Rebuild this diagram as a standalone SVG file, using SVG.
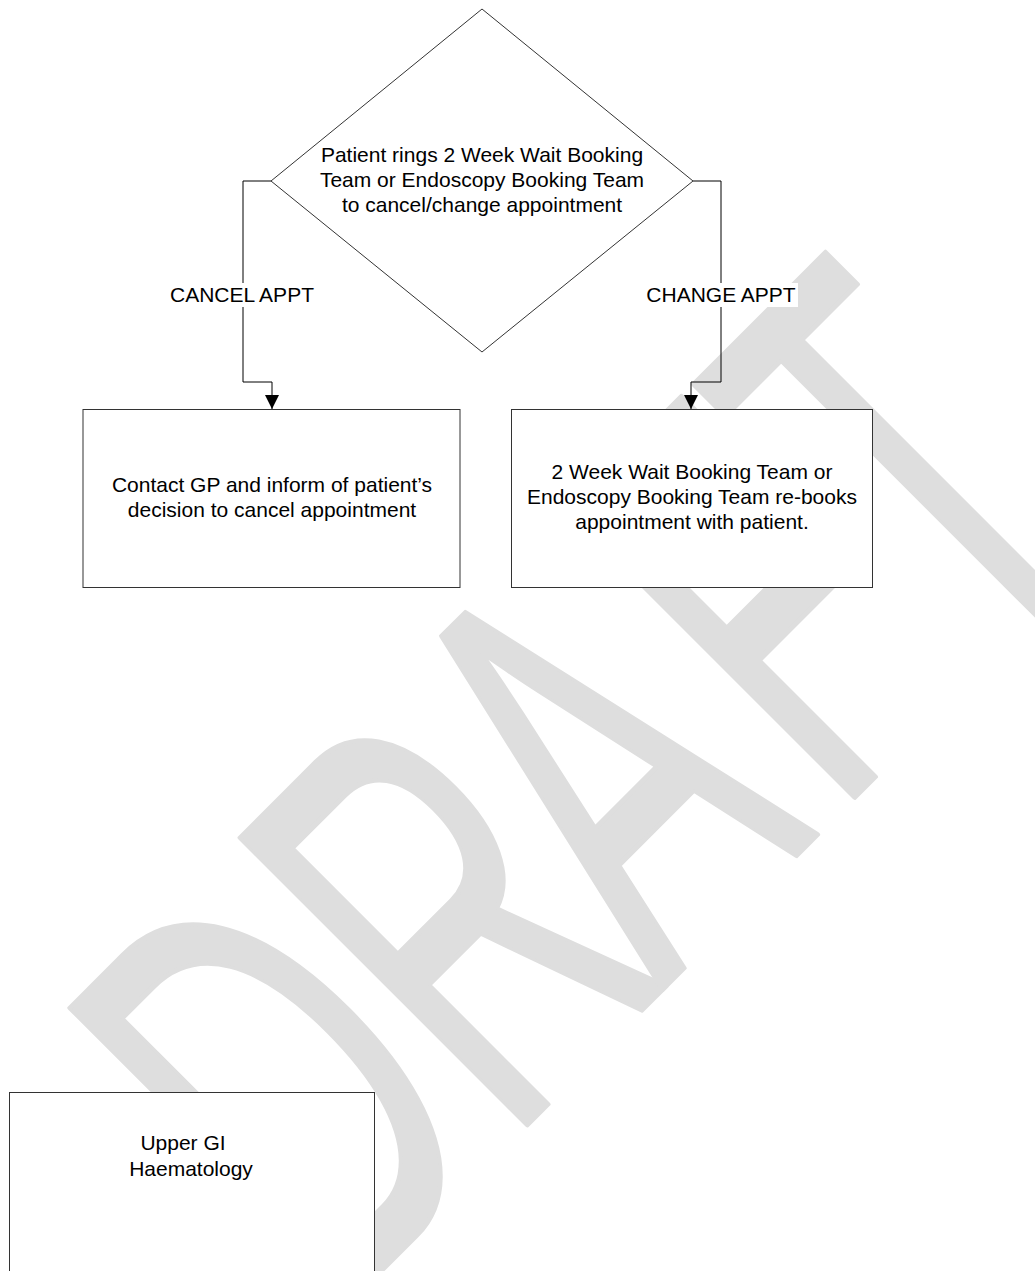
<svg xmlns="http://www.w3.org/2000/svg" width="1035" height="1271" viewBox="0 0 1035 1271">
<style>
.bg{fill:#ffffff}
.node{fill:#ffffff;stroke:#333333;stroke-width:1}
.t{font-family:"Liberation Sans",Arial,sans-serif;font-size:21px;fill:#000000;text-anchor:middle}
.conn{fill:none;stroke:#000000;stroke-width:1}
.lblbg{fill:#ffffff}
.wm{font-family:"Liberation Sans",Arial,sans-serif;font-size:590px;fill:#dedede;stroke:#dedede;stroke-width:5;stroke-linejoin:round}
</style>
<defs>
<marker id="arrow" viewBox="0 0 14 14" markerWidth="14" markerHeight="14" refX="14" refY="7" orient="auto" markerUnits="userSpaceOnUse">
<path d="M0,0 L14,7 L0,14 z" fill="#000000"/>
</marker>
</defs>
<rect class="bg" x="0" y="0" width="1035" height="1271"/>
<g id="watermark">
<text class="wm" transform="translate(337,1315) rotate(-45) scale(0.565,1)" x="0" y="0" dx="0 0 -40 40 -10">DRAFT</text>
</g>
<g id="connectors">
<path class="conn" d="M271,181 H243 V382 H272 V409" marker-end="url(#arrow)"/>
<path class="conn" d="M693,181 H721 V382 H691 V409" marker-end="url(#arrow)"/>
<g id="label-cancel">
<rect class="lblbg" x="165" y="283" width="155" height="24"/>
<text class="t" x="242" y="302">CANCEL APPT</text>
</g>
<g id="label-change">
<rect class="lblbg" x="643" y="283" width="155" height="24"/>
<text class="t" x="721" y="302">CHANGE APPT</text>
</g>
</g>
<g id="decision">
<polygon class="node" points="482,9 693,181 482,352 271,181"/>
<text class="t" x="482" y="162">Patient rings 2 Week Wait Booking</text>
<text class="t" x="482" y="187">Team or Endoscopy Booking Team</text>
<text class="t" x="482" y="212">to cancel/change appointment</text>
</g>
<g id="contact-gp">
<rect class="node" x="83" y="409.5" width="377" height="178"/>
<text class="t" x="272" y="492">Contact GP and inform of patient’s</text>
<text class="t" x="272" y="517">decision to cancel appointment</text>
</g>
<g id="rebook">
<rect class="node" x="511.5" y="409.5" width="361" height="178"/>
<text class="t" x="692" y="479">2 Week Wait Booking Team or</text>
<text class="t" x="692" y="504">Endoscopy Booking Team re-books</text>
<text class="t" x="692" y="529">appointment with patient.</text>
</g>
<g id="upper-gi">
<rect class="node" x="9.5" y="1092.5" width="365" height="220"/>
<text class="t" x="183" y="1150">Upper GI</text>
<text class="t" x="191" y="1176">Haematology</text>
</g>
</svg>
